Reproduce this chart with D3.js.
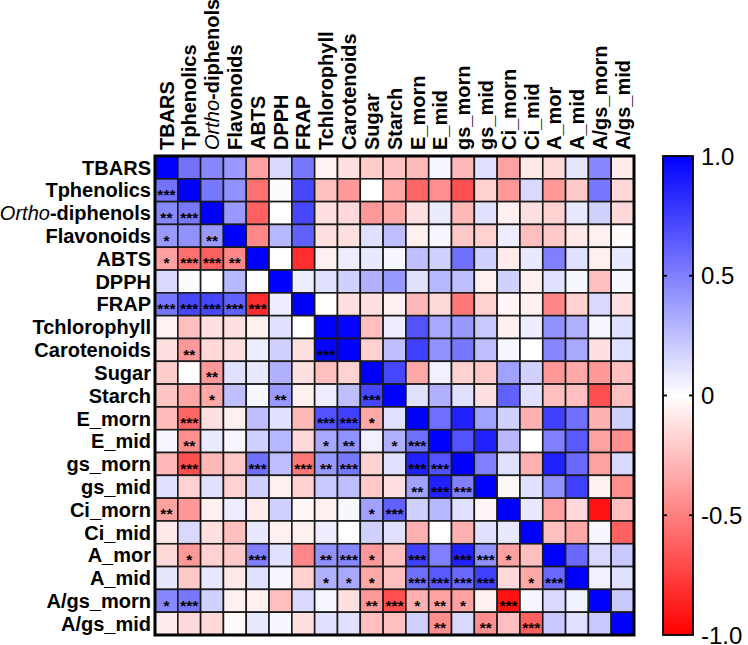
<!DOCTYPE html>
<html lang="en">
<head>
<meta charset="UTF-8" />
<title>Correlation heatmap</title>
<script src="https://d3js.org/d3.v7.min.js"></script>
<style>
    body {
        margin: 0;
        background: #fff;
    }

    svg {
        display: block;
        font-family: Arial, "Liberation Sans", sans-serif;
    }
</style>
</head>
<body>
<svg id="chart" width="748" height="645"></svg>
<script>
    // variable names (rows top->bottom, columns left->right)
    const labels = ["TBARS", "Tphenolics", "Ortho-diphenols", "Flavonoids", "ABTS", "DPPH", "FRAP",
        "Tchlorophyll", "Carotenoids", "Sugar", "Starch", "E_morn", "E_mid", "gs_morn", "gs_mid",
        "Ci_morn", "Ci_mid", "A_mor", "A_mid", "A/gs_morn", "A/gs_mid"];

    // lower triangle of the correlation matrix (diagonal included)
    const corrRows = [
        [1],
        [0.55, 1],
        [0.47, 0.53, 1],
        [0.40, 0.43, 0.40, 1],
        [-0.37, -0.56, -0.62, -0.47, 1],
        [0.15, 0.01, 0.00, 0.28, 0.00, 1],
        [0.53, 0.72, 0.72, 0.62, -0.82, 0.07, 1],
        [-0.05, -0.25, -0.12, -0.12, -0.06, 0.12, 0.00, 1],
        [-0.12, -0.40, -0.15, -0.12, 0.07, 0.18, -0.12, 0.98, 1],
        [-0.20, 0.00, -0.40, 0.12, 0.09, 0.31, -0.12, -0.25, -0.18, 1],
        [-0.23, -0.35, -0.34, 0.25, 0.03, 0.40, -0.06, 0.07, 0.25, 0.72, 1],
        [-0.27, -0.60, -0.12, -0.06, 0.25, 0.12, -0.28, 0.68, 0.75, -0.34, 0.12, 1],
        [0.03, -0.44, 0.08, 0.03, 0.18, 0.28, -0.15, 0.34, 0.43, 0.06, 0.31, 0.56, 1],
        [-0.28, -0.69, -0.28, -0.21, 0.56, 0.25, -0.53, 0.40, 0.53, -0.18, 0.12, 0.87, 0.68, 1],
        [0.12, -0.18, 0.12, -0.18, 0.18, -0.06, -0.18, 0.21, 0.25, -0.21, -0.12, 0.37, 0.87, 0.50, 1],
        [-0.37, -0.40, -0.06, 0.07, -0.08, 0.18, -0.03, -0.06, 0.03, 0.37, 0.62, 0.18, 0.28, 0.12, -0.03, 1],
        [-0.09, 0.15, -0.12, -0.25, 0.09, -0.06, -0.06, 0.07, 0.00, 0.18, 0.12, -0.31, 0.00, -0.31, 0.12, 0.09, 1],
        [-0.15, -0.40, -0.18, -0.21, 0.50, 0.12, -0.47, 0.43, 0.47, -0.40, -0.25, 0.75, 0.50, 0.87, 0.43, -0.37, -0.25, 1],
        [0.10, -0.21, 0.09, -0.09, 0.12, 0.03, -0.18, 0.31, 0.34, -0.34, -0.25, 0.56, 0.65, 0.59, 0.75, -0.15, -0.34, 0.59, 1],
        [0.47, 0.53, 0.18, -0.06, -0.06, -0.25, 0.15, 0.03, -0.12, -0.40, -0.69, -0.31, -0.37, -0.37, -0.06, -0.93, 0.03, 0.15, 0.06, 1],
        [-0.08, -0.15, -0.15, -0.02, 0.09, 0.03, -0.12, 0.12, 0.12, -0.25, -0.25, 0.18, -0.44, 0.15, -0.44, -0.25, -0.62, 0.21, 0.12, 0.21, 1]
    ];

    // significance marks in the lower triangle: [row, col, stars]
    const starCells = [
        [1, 0, "***"],
        [2, 0, "**"], [2, 1, "***"],
        [3, 0, "*"], [3, 2, "**"],
        [4, 0, "*"], [4, 1, "***"], [4, 2, "***"], [4, 3, "**"],
        [6, 0, "***"], [6, 1, "***"], [6, 2, "***"], [6, 3, "***"], [6, 4, "***"],
        [8, 1, "**"], [8, 7, "***"],
        [9, 2, "**"],
        [10, 2, "*"], [10, 5, "**"], [10, 9, "***"],
        [11, 1, "***"], [11, 7, "***"], [11, 8, "***"], [11, 9, "*"],
        [12, 1, "**"], [12, 7, "*"], [12, 8, "**"], [12, 10, "*"], [12, 11, "***"],
        [13, 1, "***"], [13, 4, "***"], [13, 6, "***"], [13, 7, "**"], [13, 8, "***"], [13, 11, "***"], [13, 12, "***"],
        [14, 11, "**"], [14, 12, "***"], [14, 13, "***"],
        [15, 0, "**"], [15, 9, "*"], [15, 10, "***"],
        [17, 1, "*"], [17, 4, "***"], [17, 7, "**"], [17, 8, "***"], [17, 9, "*"], [17, 11, "***"], [17, 13, "***"], [17, 14, "***"], [17, 15, "*"],
        [18, 7, "*"], [18, 8, "*"], [18, 9, "*"], [18, 11, "***"], [18, 12, "***"], [18, 13, "***"], [18, 14, "***"], [18, 16, "*"], [18, 17, "***"],
        [19, 0, "*"], [19, 1, "***"], [19, 9, "**"], [19, 10, "***"], [19, 11, "*"], [19, 12, "**"], [19, 13, "*"], [19, 15, "***"],
        [20, 12, "**"], [20, 14, "**"], [20, 16, "***"]
    ];

    const colorTicks = [1, 0.5, 0, -0.5, -1];
    const colorTickLabels = ["1.0", "0.5", "0", "-0.5", "-1.0"];

    const svg = d3.select("#chart");

    const gridLeft = 155;
    const gridTop = 156;
    const gridSize = 479;

    const x = d3.scaleBand().domain(d3.range(labels.length)).range([gridLeft, gridLeft + gridSize]);
    const y = d3.scaleBand().domain(d3.range(labels.length)).range([gridTop, gridTop + gridSize]);

    const color = d3.scaleLinear()
        .domain([-1, 0, 1])
        .range(["#ff0000", "#ffffff", "#0000ff"])
        .clamp(true);

    // full symmetric matrix
    const cells = [];
    labels.forEach((_, i) => {
        labels.forEach((_, j) => {
            const v = i >= j ? corrRows[i][j] : corrRows[j][i];
            cells.push({ row: i, col: j, value: v });
        });
    });

    svg.append("g")
        .selectAll("rect")
        .data(cells)
        .join("rect")
        .attr("x", d => x(d.col))
        .attr("y", d => y(d.row))
        .attr("width", x.bandwidth())
        .attr("height", y.bandwidth())
        .attr("fill", d => color(d.value))
        .attr("stroke", "#1a1a1a")
        .attr("stroke-width", 1.6);

    // stars
    svg.append("g")
        .selectAll("text")
        .data(starCells)
        .join("text")
        .attr("x", d => x(d[1]) + x.bandwidth() / 2)
        .attr("y", d => y(d[0]) + y.bandwidth() / 2 + 9.8)
        .attr("text-anchor", "middle")
        .attr("font-size", 15.5)
        .attr("font-weight", "bold")
        .attr("fill", "#000")
        .text(d => d[2]);

    // outer frame
    svg.append("rect")
        .attr("x", gridLeft)
        .attr("y", gridTop)
        .attr("width", gridSize)
        .attr("height", gridSize)
        .attr("fill", "none")
        .attr("stroke", "#000")
        .attr("stroke-width", 3);

    function addLabel(sel, name) {
        if (name === "Ortho-diphenols") {
            sel.append("tspan").attr("font-style", "italic").attr("font-weight", "normal").text("Ortho");
            sel.append("tspan").text("-diphenols");
        } else {
            sel.text(name);
        }
    }

    // row labels
    svg.append("g")
        .selectAll("text")
        .data(labels)
        .join("text")
        .attr("x", gridLeft - 4)
        .attr("y", (d, i) => y(i) + y.bandwidth() / 2)
        .attr("dy", "0.36em")
        .attr("text-anchor", "end")
        .attr("font-size", 20)
        .attr("font-weight", "bold")
        .each(function (d) { addLabel(d3.select(this), d); });

    // column labels
    svg.append("g")
        .selectAll("text")
        .data(labels)
        .join("text")
        .attr("transform", (d, i) => `translate(${x(i) + x.bandwidth() / 2}, ${gridTop - 6}) rotate(-90)`)
        .attr("dy", "0.36em")
        .attr("text-anchor", "start")
        .attr("font-size", 20)
        .attr("font-weight", "bold")
        .each(function (d) { addLabel(d3.select(this), d); });

    // colour bar
    const barX = 663;
    const barW = 30;
    const barScale = d3.scaleLinear().domain([1, -1]).range([gridTop, gridTop + gridSize]);

    const grad = svg.append("defs").append("linearGradient")
        .attr("id", "barGrad")
        .attr("x1", 0).attr("x2", 0)
        .attr("y1", 0).attr("y2", 1);
    grad.selectAll("stop")
        .data(d3.range(0, 1.0001, 0.1))
        .join("stop")
        .attr("offset", d => d)
        .attr("stop-color", d => color(1 - 2 * d));

    svg.append("rect")
        .attr("x", barX)
        .attr("y", barScale(1))
        .attr("width", barW)
        .attr("height", barScale(-1) - barScale(1))
        .attr("fill", "url(#barGrad)")
        .attr("stroke", "#000")
        .attr("stroke-width", 1.8);

    const barTicks = svg.append("g");
    barTicks.selectAll("line.l")
        .data(colorTicks.filter(t => Math.abs(t) < 1))
        .join("line")
        .attr("class", "l")
        .attr("x1", barX).attr("x2", barX + 4)
        .attr("y1", d => barScale(d)).attr("y2", d => barScale(d))
        .attr("stroke", "#000").attr("stroke-width", 1.8);
    barTicks.selectAll("line.r")
        .data(colorTicks.filter(t => Math.abs(t) < 1))
        .join("line")
        .attr("class", "r")
        .attr("x1", barX + barW - 4).attr("x2", barX + barW)
        .attr("y1", d => barScale(d)).attr("y2", d => barScale(d))
        .attr("stroke", "#000").attr("stroke-width", 1.8);

    barTicks.selectAll("text")
        .data(colorTicks)
        .join("text")
        .attr("x", barX + barW + 8)
        .attr("y", d => barScale(d))
        .attr("dy", "0.36em")
        .attr("font-size", 24)
        .attr("fill", "#000")
        .text((d, i) => colorTickLabels[i]);
</script>
</body>
</html>
